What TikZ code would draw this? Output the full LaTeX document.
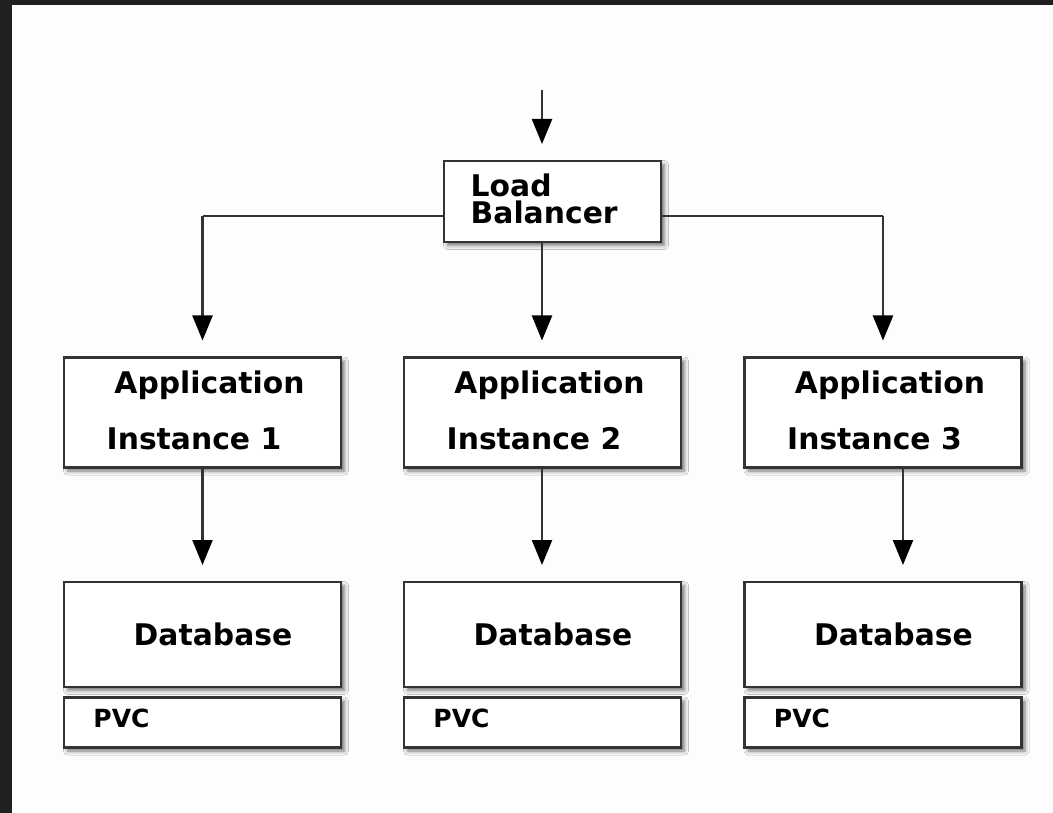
\documentclass[tikz,border=0pt]{standalone}
\usepackage{fontspec}
\setmainfont{DejaVu Sans}
\usetikzlibrary{arrows.meta,shadows.blur,calc}
\definecolor{frame}{HTML}{202020}
\definecolor{paper}{HTML}{FDFDFD}
\definecolor{edge}{HTML}{333333}
\tikzset{
  box/.style={draw=edge, line width=2.3pt, fill=white, inner sep=0pt, outer sep=0pt,
    blur shadow={shadow xshift=3.5pt, shadow yshift=-3.5pt, shadow blur radius=4pt, shadow opacity=55}},
  lbbox/.style={box, minimum width=217pt, minimum height=81pt},
  appbox/.style={box, minimum width=277pt, minimum height=110pt},
  dbbox/.style={box, minimum width=277pt, minimum height=105pt},
  pvcbox/.style={box, minimum width=277pt, minimum height=50pt},
  lbl/.style={font=\fontsize{29.8}{30}\selectfont\bfseries, inner sep=0pt, text=black},
  small/.style={font=\fontsize{25}{26}\selectfont\bfseries, inner sep=0pt, text=black},
  arr/.style={draw=edge, line width=2.3pt, shorten >=17pt,
    -{Triangle[length=25pt, width=20pt, fill=black, color=black]}},
  link/.style={draw=edge, line width=2.3pt},
}
\begin{document}
\begin{tikzpicture}[x=1pt, y=-1pt]
  % page and dark frame strips
  \fill[paper] (0,0) rectangle (1053,813);
  \fill[frame] (0,0) rectangle (12,813);
  \fill[frame] (0,0) rectangle (1053,5);
  \useasboundingbox (0,0) rectangle (1053,813);

  % load balancer
  \node[lbbox] (lb) at (552.5,201.5) {};
  \node[lbl, anchor=base west] (lbt1) at (470.5,197) {Load};
  \node[lbl, anchor=base west] (lbt2) at (470.5,224) {Balancer};

  % application instances
  \foreach \i/\x in {1/202.5, 2/542.5, 3/883} {
    \node[appbox] (app\i) at (\x,412.5) {};
    \node[dbbox] (db\i) at (\x,634.5) {};
    \node[pvcbox] (pvc\i) at (\x,722.5) {};
    \node[lbl, anchor=base] (appa\i) at (\x+7,393) {Application};
    \node[lbl, anchor=base] (appb\i) at (\x-8.5,449) {Instance \i};
    \node[lbl, anchor=base] (dbt\i) at (\x+10.5,645) {Database};
    \node[small, anchor=base] (pvct\i) at (\x-81,727.5) {PVC};
  }

  % incoming traffic
  \coordinate (in) at (542,90);
  \draw[arr] (in) -- (in |- lb.north);

  % load balancer fan-out
  \draw[link] ([yshift=-14.5pt]lb.west) -| ([yshift=-14.5pt]lb.west -| app1.north);
  \draw[arr] ([yshift=-14.5pt]lb.west -| app1.north) -- (app1.north);
  \draw[link] ([yshift=-14.5pt]lb.east) -| ([yshift=-14.5pt]lb.east -| app3.north);
  \draw[arr] ([yshift=-14.5pt]lb.east -| app3.north) -- (app3.north);
  \draw[arr] (lb.south -| in) -- (app2.north -| in);

  % instances to their databases
  \draw[arr] (app1.south) -- (db1.north);
  \draw[arr] (app2.south -| in) -- (db2.north -| in);
  \draw[arr] ([xshift=20pt]app3.south) -- ([xshift=20pt]db3.north);
\end{tikzpicture}
\end{document}
